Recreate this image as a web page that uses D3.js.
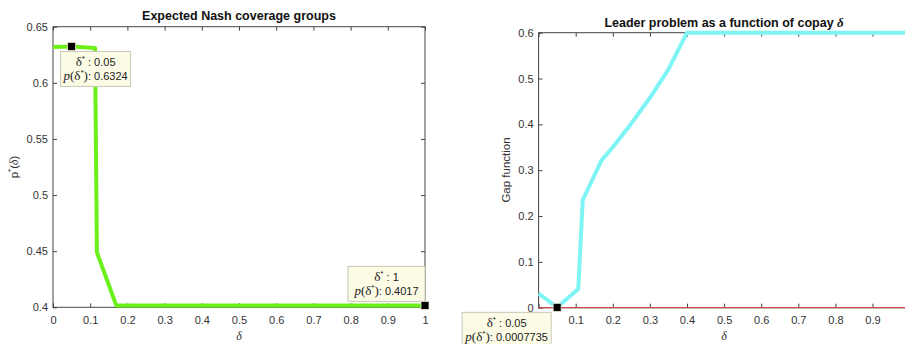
<!DOCTYPE html>
<html>
<head>
<meta charset="utf-8">
<script src="https://cdn.jsdelivr.net/npm/d3@7"></script>
<style>
  body { margin: 0; background: #fff; }
  svg { display: block; font-family: "Liberation Sans", Arial, sans-serif; }
  .tick text { font-size: 11px; fill: #333; }
  .tick line { stroke: #444; }
</style>
</head>
<body>
<div id="chart"></div>
<script>
// left panel: expected Nash coverage
const nashDelta = [0, 0.05, 0.113, 0.118, 0.17, 1];
const nashP = [0.632, 0.6324, 0.631, 0.449, 0.4017, 0.4017];
const nashXTicks = [0, 0.1, 0.2, 0.3, 0.4, 0.5, 0.6, 0.7, 0.8, 0.9, 1];
const nashYTicks = [0.4, 0.45, 0.5, 0.55, 0.6, 0.65];

// right panel: gap function
const gapDelta = [0, 0.05, 0.107, 0.119, 0.17, 0.2, 0.25, 0.3, 0.35, 0.4, 1];
const gapValue = [0.031, 0.0007735, 0.041, 0.235, 0.322, 0.35, 0.402, 0.458, 0.52, 0.6, 0.6];
const zeroDelta = [0, 1];
const zeroValue = [0, 0];
const gapXTicks = [0, 0.1, 0.2, 0.3, 0.4, 0.5, 0.6, 0.7, 0.8, 0.9, 1];
const gapYTicks = [0, 0.1, 0.2, 0.3, 0.4, 0.5, 0.6];

// data tips: [delta, value, delta label, value label]
const nashTips = [[0.05, 0.6324, "0.05", "0.6324"], [1, 0.4017, "1", "0.4017"]];
const gapTips = [[0.05, 0.0007735, "0.05", "0.0007735"]];

const W = 905, H = 344;
const axisColor = "#444";

const svg = d3.select("#chart").append("svg")
    .attr("width", W)
    .attr("height", H);

const fmt = d => d3.format("~g")(d);

function drawAxes(g, x, y, xTicks, yTicks, xFmt) {
    const [x0, x1] = x.range();
    const [y0, y1] = y.range();

    g.append("g")
        .attr("transform", `translate(0,${y0})`)
        .call(d3.axisBottom(x).tickValues(xTicks).tickFormat(xFmt || fmt).tickSizeInner(-4).tickSizeOuter(0).tickPadding(9))
        .call(a => a.select(".domain").remove());
    g.append("g")
        .attr("transform", `translate(0,${y1})`)
        .call(d3.axisTop(x).tickValues(xTicks).tickFormat("").tickSizeInner(-4).tickSizeOuter(0))
        .call(a => a.select(".domain").remove());
    g.append("g")
        .attr("transform", `translate(${x0},0)`)
        .call(d3.axisLeft(y).tickValues(yTicks).tickFormat(fmt).tickSizeInner(-4).tickSizeOuter(0).tickPadding(5))
        .call(a => a.select(".domain").remove());
    g.append("g")
        .attr("transform", `translate(${x1},0)`)
        .call(d3.axisRight(y).tickValues(yTicks).tickFormat("").tickSizeInner(-4).tickSizeOuter(0))
        .call(a => a.select(".domain").remove());

    g.append("rect")
        .attr("x", x0)
        .attr("y", y1)
        .attr("width", x1 - x0)
        .attr("height", y0 - y1)
        .attr("fill", "none")
        .attr("stroke", axisColor)
        .attr("stroke-width", 1);
}

function drawLine(g, x, y, xs, ys, color, width) {
    const pts = xs.map((d, i) => [d, ys[i]]);
    g.append("path")
        .datum(pts)
        .attr("fill", "none")
        .attr("stroke", color)
        .attr("stroke-width", width)
        .attr("stroke-linejoin", "round")
        .attr("stroke-linecap", "butt")
        .attr("d", d3.line().x(d => x(d[0])).y(d => y(d[1])));
}

function drawTip(g, x, y, tip, dx, dy, w, h) {
    const px = x(tip[0]), py = y(tip[1]);
    const bx = px + dx, by = py + dy;
    g.append("rect")
        .attr("x", bx).attr("y", by)
        .attr("width", w).attr("height", h)
        .attr("fill", "#fbfbe6")
        .attr("stroke", "#c8c8b8")
        .attr("stroke-width", 1);

    const l1 = g.append("text")
        .attr("x", bx + w / 2)
        .attr("y", by + 15)
        .attr("text-anchor", "middle")
        .attr("font-size", 11)
        .attr("fill", "#222");
    l1.append("tspan").attr("font-family", "Liberation Serif, serif").attr("font-size", 13).text("δ");
    l1.append("tspan").attr("dy", -5).attr("font-size", 8).text("*");
    l1.append("tspan").attr("dy", 5).text(" : " + tip[2]);

    const l2 = g.append("text")
        .attr("x", bx + w / 2)
        .attr("y", by + 29)
        .attr("text-anchor", "middle")
        .attr("font-size", 11)
        .attr("fill", "#222");
    l2.append("tspan").attr("font-family", "Liberation Serif, serif").attr("font-style", "italic").attr("font-size", 13).text("p");
    l2.append("tspan").attr("font-family", "Liberation Serif, serif").attr("font-size", 13).text("(δ");
    l2.append("tspan").attr("dy", -5).attr("font-size", 8).text("*");
    l2.append("tspan").attr("dy", 5).attr("font-family", "Liberation Serif, serif").attr("font-size", 13).text(")");
    l2.append("tspan").text(": " + tip[3]);

    g.append("rect")
        .attr("x", px - 4).attr("y", py - 4)
        .attr("width", 8).attr("height", 8)
        .attr("fill", "#000")
        .attr("stroke", "#e8e8d0")
        .attr("stroke-width", 0.8);
}

// ---------- left panel
const xL = d3.scaleLinear().domain([0, 1]).range([53, 425]);
const yL = d3.scaleLinear().domain([0.4, 0.65]).range([307.3, 26.7]);
const gL = svg.append("g");

drawAxes(gL, xL, yL, nashXTicks, nashYTicks);
drawLine(gL, xL, yL, nashDelta, nashP, "#6cf01a", 4);

gL.append("text")
    .attr("x", (xL.range()[0] + xL.range()[1]) / 2)
    .attr("y", 20)
    .attr("text-anchor", "middle")
    .attr("font-weight", "bold")
    .attr("font-size", 12.5)
    .attr("fill", "#111")
    .text("Expected Nash coverage groups");

gL.append("text")
    .attr("x", (xL.range()[0] + xL.range()[1]) / 2)
    .attr("y", 340)
    .attr("text-anchor", "middle")
    .attr("font-family", "Liberation Serif, serif")
    .attr("font-style", "italic")
    .attr("font-size", 12)
    .attr("fill", "#333")
    .text("δ");

const yLabL = gL.append("text")
    .attr("transform", `translate(18,167) rotate(-90)`)
    .attr("text-anchor", "middle")
    .attr("font-size", 11.5)
    .attr("fill", "#333");
yLabL.append("tspan").text("p");
yLabL.append("tspan").attr("dy", -5).attr("font-size", 8).text("*");
yLabL.append("tspan").attr("dy", 5).text("(");
yLabL.append("tspan").attr("font-family", "Liberation Serif, serif").attr("font-style", "italic").text("δ");
yLabL.append("tspan").text(")");

drawTip(gL, xL, yL, nashTips[0], -11, 5, 70, 35);
drawTip(gL, xL, yL, nashTips[1], -77, -39, 77, 35);

// ---------- right panel
const xR = d3.scaleLinear().domain([0, 1]).range([538.6, 909.6]);
const yR = d3.scaleLinear().domain([0, 0.6]).range([307.7, 32.7]);
const gR = svg.append("g");

// the "1" label falls past the window edge, as in the original
drawAxes(gR, xR, yR, gapXTicks, gapYTicks, d => d < 1 ? fmt(d) : "");
drawLine(gR, xR, yR, gapDelta, gapValue, "#7ff4f4", 4);
drawLine(gR, xR, yR, zeroDelta, zeroValue, "#c84848", 1.3);

const titleR = gR.append("text")
    .attr("x", (xR.range()[0] + xR.range()[1]) / 2)
    .attr("y", 26.5)
    .attr("text-anchor", "middle")
    .attr("font-weight", "bold")
    .attr("font-size", 12.5)
    .attr("fill", "#111");
titleR.append("tspan").text("Leader problem as a function of copay ");
titleR.append("tspan").attr("font-family", "Liberation Serif, serif").attr("font-style", "italic").attr("font-size", 13).text("δ");

gR.append("text")
    .attr("x", (xR.range()[0] + xR.range()[1]) / 2)
    .attr("y", 340)
    .attr("text-anchor", "middle")
    .attr("font-family", "Liberation Serif, serif")
    .attr("font-style", "italic")
    .attr("font-size", 12)
    .attr("fill", "#333")
    .text("δ");

gR.append("text")
    .attr("transform", `translate(510,170) rotate(-90)`)
    .attr("text-anchor", "middle")
    .attr("font-size", 11.5)
    .attr("fill", "#333")
    .text("Gap function");

drawTip(gR, xR, yR, gapTips[0], -95, 5, 89, 35);
</script>
</body>
</html>
